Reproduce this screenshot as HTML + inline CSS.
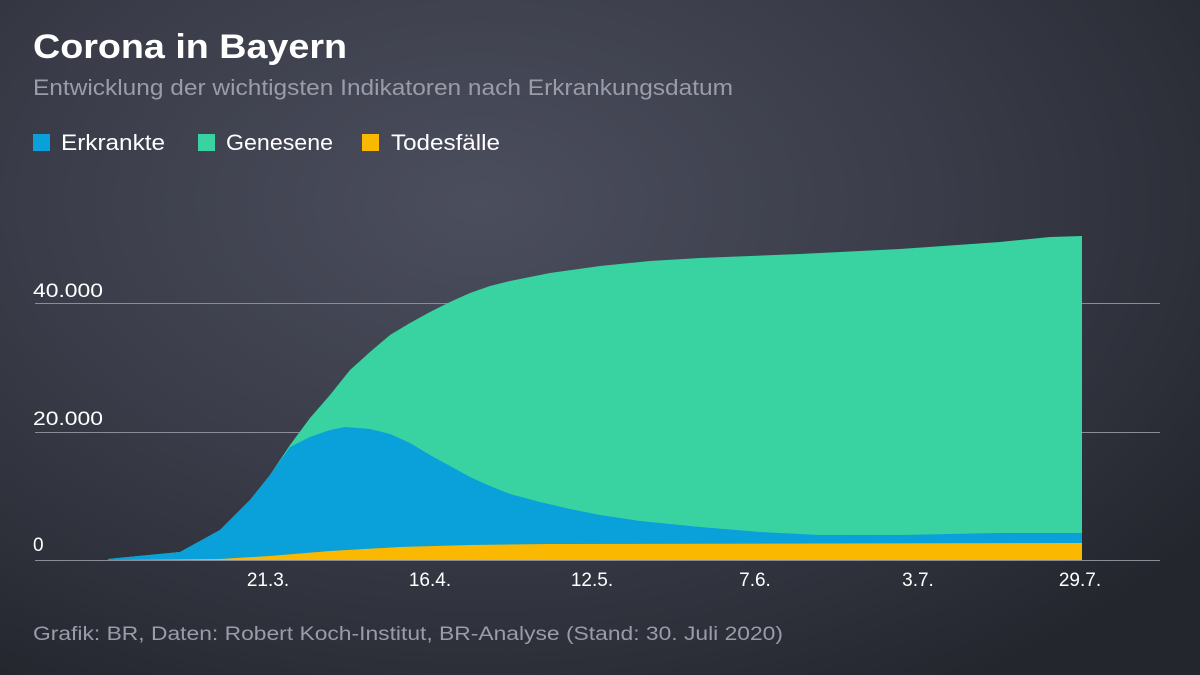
<!DOCTYPE html>
<html><head><meta charset="utf-8"><style>
html,body{margin:0;padding:0}
body{width:1200px;height:675px;overflow:hidden;position:relative;font-family:"Liberation Sans",sans-serif;
background:radial-gradient(ellipse 75% 85% at 40% 30%,#4b4e5d 0%,#3a3c49 50%,#24262e 100%);}
</style></head><body>
<svg width="1200" height="675" style="position:absolute;left:0;top:0" font-family="Liberation Sans,sans-serif">
<text x="33" y="58" font-size="34" font-weight="bold" fill="#fff" textLength="314" lengthAdjust="spacingAndGlyphs">Corona in Bayern</text>
<text x="33" y="95" font-size="22" fill="#9a9caa" textLength="700" lengthAdjust="spacingAndGlyphs">Entwicklung der wichtigsten Indikatoren nach Erkrankungsdatum</text>
<rect x="33" y="134" width="17" height="17" fill="#0aa0da"/>
<rect x="198" y="134" width="17" height="17" fill="#38d3a0"/>
<rect x="362" y="134" width="17" height="17" fill="#fbb800"/>
<g font-size="22" fill="#fff">
<text x="61" y="150" textLength="104" lengthAdjust="spacingAndGlyphs">Erkrankte</text>
<text x="226" y="150" textLength="107" lengthAdjust="spacingAndGlyphs">Genesene</text>
<text x="391" y="150" textLength="109" lengthAdjust="spacingAndGlyphs">Todesfälle</text>
</g>
<g stroke="#8a8c98" stroke-width="1"><line x1="35" x2="1160" y1="303.5" y2="303.5"/><line x1="35" x2="1160" y1="432.5" y2="432.5"/><line x1="35" x2="1160" y1="560.5" y2="560.5"/></g>
<path fill="#38d3a0" d="M108,560 L108,559 L180,552 L220,530 L250,500 L270,475 L290,445 L310,418 L330,395 L350,370 L370,352 L390,335 L410,323 L430,312 L450,302 L470,293 L490,286 L510,281 L550,273 L600,266 L650,261 L700,258 L800,254 L900,249 L1000,242 L1050,237 L1082,236 L1082,560 Z"/>
<path fill="#0aa0da" d="M108,560 L108,559 L180,552 L220,530 L250,500 L270,475 L290,447 L310,437 L330,430 L345,427 L370,429 L390,434 L410,443 L430,455 L450,466 L470,477 L490,486 L510,494 L540,502 L570,509 L600,515 L640,521 L700,527 L760,532 L820,535 L900,535 L1000,533 L1082,533 L1082,560 Z"/>
<path fill="#fbb800" d="M108,560 L220,559 L270,556 L330,551 L400,547 L470,545 L550,544 L1082,543 L1082,560 Z"/>
<g font-size="19" fill="#fff">
<text x="33" y="297" textLength="70" lengthAdjust="spacingAndGlyphs">40.000</text><text x="33" y="425" textLength="70" lengthAdjust="spacingAndGlyphs">20.000</text><text x="33" y="551">0</text>
<g text-anchor="middle"><text x="268" y="586">21.3.</text><text x="430" y="586">16.4.</text><text x="592" y="586">12.5.</text><text x="755" y="586">7.6.</text><text x="918" y="586">3.7.</text><text x="1080" y="586">29.7.</text></g>
</g>
<text x="33" y="640" font-size="19" fill="#9a9caa" textLength="750" lengthAdjust="spacingAndGlyphs">Grafik: BR, Daten: Robert Koch-Institut, BR-Analyse (Stand: 30. Juli 2020)</text>
</svg>
</body></html>
